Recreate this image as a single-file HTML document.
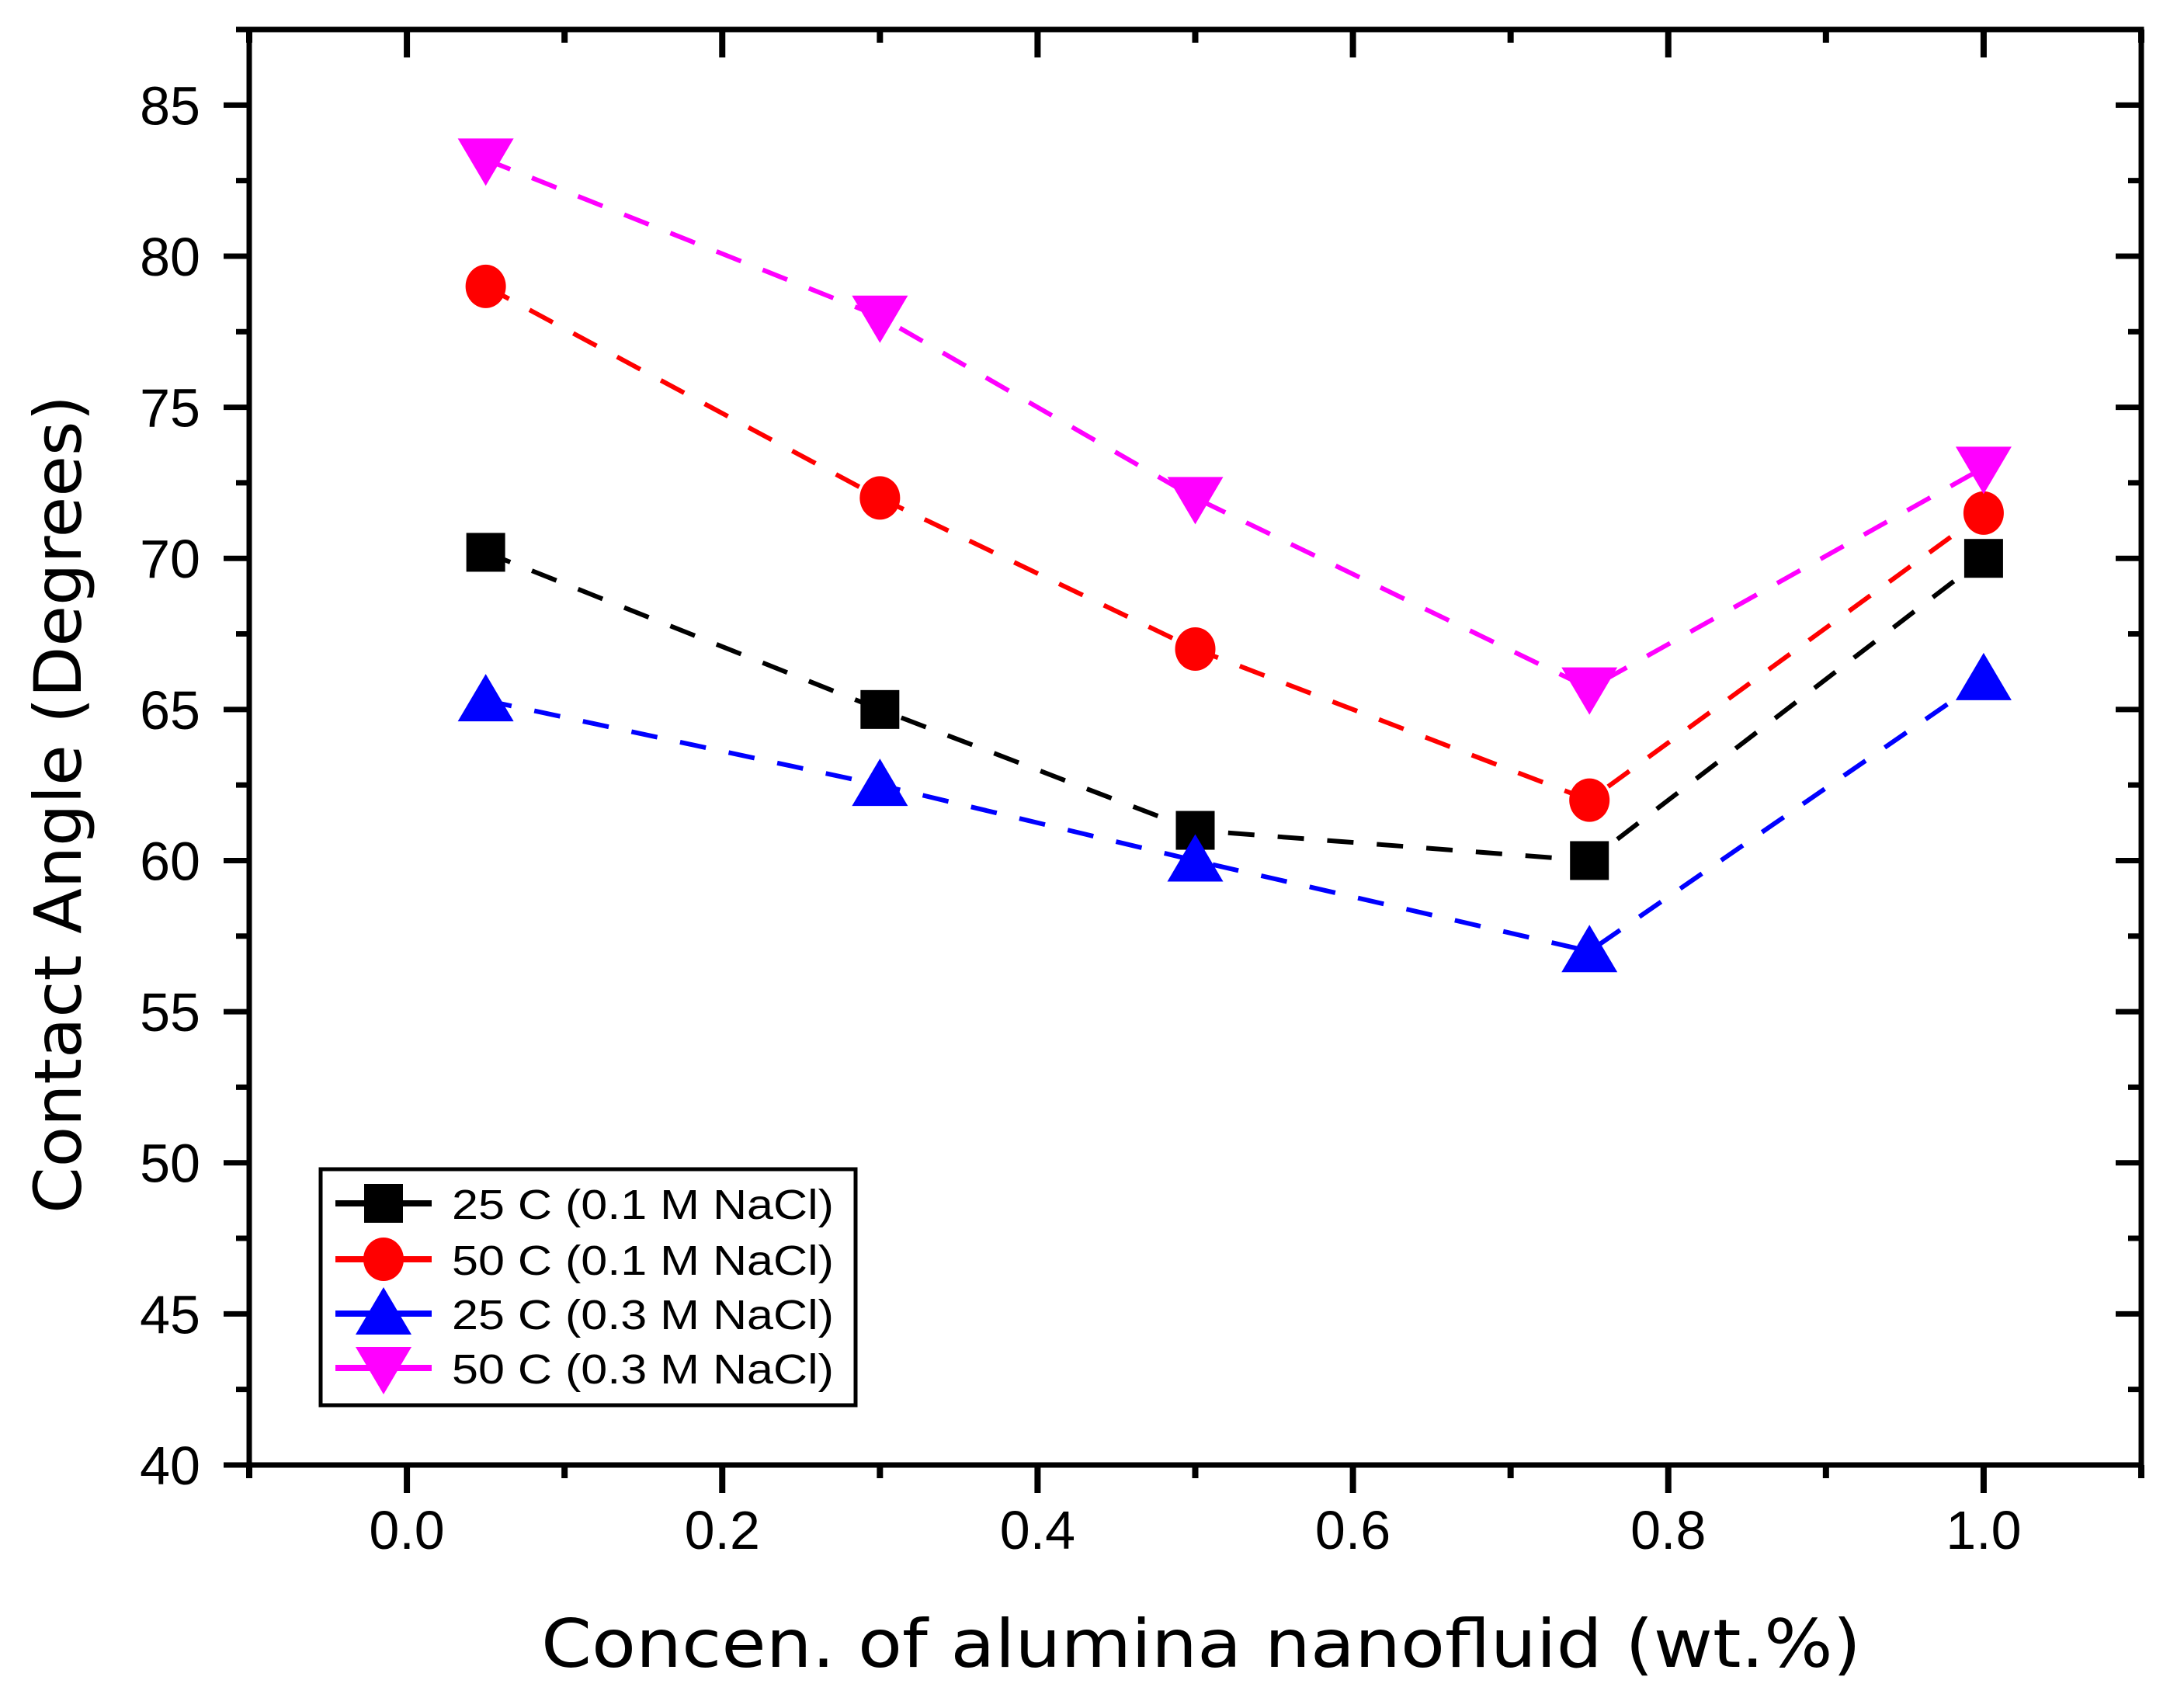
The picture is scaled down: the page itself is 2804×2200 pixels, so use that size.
<!DOCTYPE html>
<html>
<head>
<meta charset="utf-8">
<style>
html,body{margin:0;padding:0;background:#fff;}
svg{display:block;}
</style>
</head>
<body>
<svg id="chart" width="2804" height="2200" viewBox="0 0 2804 2200" xmlns="http://www.w3.org/2000/svg">
<rect x="0" y="0" width="2804" height="2200" fill="#fff"/>
<g id="plot"></g>
<g id="axes"></g>
<text x="1547" y="2147" text-anchor="middle" font-family="'DejaVu Sans', sans-serif" font-size="86" textLength="1700" lengthAdjust="spacingAndGlyphs">Concen. of alumina nanofluid (wt.%)</text>
<text transform="translate(104,1036) rotate(-90)" text-anchor="middle" font-family="'DejaVu Sans', sans-serif" font-size="84" textLength="1054" lengthAdjust="spacingAndGlyphs">Contact Angle (Degrees)</text>
<g id="legend"></g>
</svg>
<script>
const xValues = [0.05, 0.3, 0.5, 0.75, 1.0];
const seriesNames = ["25 C (0.1 M NaCl)", "50 C (0.1 M NaCl)", "25 C (0.3 M NaCl)", "50 C (0.3 M NaCl)"];
const s25c01 = [70.2, 65, 61, 60, 70];
const s50c01 = [79, 72, 67, 62, 71.5];
const s25c03 = [65.3, 62.5, 60, 57, 66];
const s50c03 = [83.2, 78, 72, 65.7, 73];
const yTicks = [40, 45, 50, 55, 60, 65, 70, 75, 80, 85];
const xTicks = [0.0, 0.2, 0.4, 0.6, 0.8, 1.0];
const xTickLabels = ["0.0", "0.2", "0.4", "0.6", "0.8", "1.0"];

const NS = "http://www.w3.org/2000/svg";
const L = 321, R = 2758, T = 38, B = 1887;
const xMin = -0.1, xMax = 1.1, yMin = 40, yMax = 87.5;
function xs(v){ return L + (v - xMin) / (xMax - xMin) * (R - L); }
function ys(v){ return B - (v - yMin) / (yMax - yMin) * (B - T); }
function mk(tag, attrs, parent){
  const e = document.createElementNS(NS, tag);
  for (const k in attrs) e.setAttribute(k, attrs[k]);
  parent.appendChild(e);
  return e;
}
const colors = ["#000000", "#ff0000", "#0000ff", "#ff00ff"];
const shapes = ["square", "circle", "up", "down"];
const allSeries = [s25c01, s50c01, s25c03, s50c03];
const slugs = ["25c-01m", "50c-01m", "25c-03m", "50c-03m"];

function marker(shape, cx, cy, color, parent){
  let e;
  if (shape === "square") e = mk("rect", {x: cx-25, y: cy-25, width: 50, height: 50, fill: color}, parent);
  else if (shape === "circle") e = mk("ellipse", {cx: cx, cy: cy, rx: 26, ry: 28, fill: color}, parent);
  else if (shape === "up") e = mk("polygon", {points: (cx)+","+(cy-34)+" "+(cx+36)+","+(cy+27)+" "+(cx-36)+","+(cy+27), fill: color}, parent);
  else e = mk("polygon", {points: (cx-36)+","+(cy-27)+" "+(cx+36)+","+(cy-27)+" "+(cx)+","+(cy+34), fill: color}, parent);
  return e;
}

const plot = document.getElementById("plot");
allSeries.forEach((vals, si) => {
  const pts = vals.map((v, i) => xs(xValues[i]) + "," + ys(v)).join(" ");
  const line = mk("polyline", {points: pts, fill: "none", stroke: colors[si], "stroke-width": 6, "stroke-dasharray": "34 30"}, plot);
  
  
});
allSeries.forEach((vals, si) => {
  vals.forEach((v, i) => {
    const m = marker(shapes[si], xs(xValues[i]), ys(v), colors[si], plot);
    
    
  });
});

const axes = document.getElementById("axes");
const frame = mk("rect", {x: L, y: T, width: R-L, height: B-T, fill: "none", stroke: "#000", "stroke-width": 7}, axes);



// y ticks
for (let v = 40; v <= 87.5; v += 2.5) {
  const y = ys(v);
  const major = (v % 5 === 0);
  const len = major ? 33 : 17;
  const t1 = mk("line", {x1: L-len, y1: y, x2: L, y2: y, stroke: "#000", "stroke-width": 7}, axes);
  
  
  const t2 = mk("line", {x1: R, y1: y, x2: R-len, y2: y, stroke: "#000", "stroke-width": 7}, axes);
  
  
}
yTicks.forEach(v => {
  const t = mk("text", {x: 258, y: ys(v) + 25, "text-anchor": "end", "font-family": "'Liberation Sans', sans-serif", "font-size": 70}, axes);
  t.textContent = String(v);
  
  
});
// x ticks
for (let k = -1; k <= 11; k++) {
  const v = k / 10;
  const x = xs(v);
  const major = (k % 2 === 0);
  const len = major ? 36 : 17;
  const t1 = mk("line", {x1: x, y1: B, x2: x, y2: B+len, stroke: "#000", "stroke-width": 8}, axes);
  
  
  const t2 = mk("line", {x1: x, y1: T, x2: x, y2: T+len, stroke: "#000", "stroke-width": 8}, axes);
  
  
}
xTicks.forEach((v, i) => {
  const t = mk("text", {x: xs(v), y: 1995, "text-anchor": "middle", "font-family": "'Liberation Sans', sans-serif", "font-size": 70}, axes);
  t.textContent = xTickLabels[i];
  
  
});

// legend
const leg = document.getElementById("legend");
const box = mk("rect", {x: 413, y: 1506, width: 689, height: 304, fill: "#fff", stroke: "#000", "stroke-width": 5}, leg);


const rowY = [1550, 1622, 1692, 1762];
seriesNames.forEach((name, si) => {
  const g = mk("g", {}, leg);
  
  
  mk("line", {x1: 432, y1: rowY[si], x2: 556, y2: rowY[si], stroke: colors[si], "stroke-width": 8}, g);
  marker(shapes[si], 494, rowY[si], colors[si], g);
  const t = mk("text", {x: 582, y: rowY[si] + 20, "font-family": "'Liberation Sans', sans-serif", "font-size": 54, textLength: 492, lengthAdjust: "spacingAndGlyphs"}, g);
  t.textContent = name;
});
</script>
</body>
</html>
